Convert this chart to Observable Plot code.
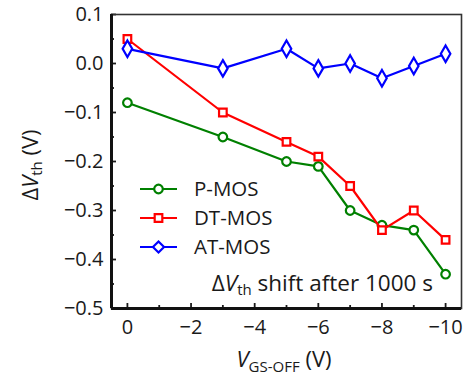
<!DOCTYPE html>
<html>
<head>
<meta charset="utf-8">
<script src="https://cdn.jsdelivr.net/npm/d3@7"></script>
<script src="https://cdn.jsdelivr.net/npm/@observablehq/plot@0.6"></script>
<style>
  html, body { margin: 0; padding: 0; background: #fff; }
  #chart svg { display: block; font-family: "Open Sans", sans-serif; }
</style>
</head>
<body>
<div id="chart"></div>
<script>
// Gate-off bias (V)
const vgsOff = [0, -3, -5, -6, -7, -8, -9, -10];
// Threshold-voltage shift after 1000 s (V)
const pMos  = [-0.08, -0.15, -0.20, -0.21, -0.30, -0.33, -0.34, -0.43];
const dtMos = [0.05, -0.10, -0.16, -0.19, -0.25, -0.34, -0.30, -0.36];
const atMos = [0.03, -0.01, 0.03, -0.01, 0.00, -0.03, -0.005, 0.02];

const seriesNames = ["P-MOS", "DT-MOS", "AT-MOS"];
const seriesColors = ["#008000", "#ff0000", "#0000ff"];
const seriesSymbols = ["circle", "square", "diamond"];
const seriesR = [4.3, 4.3, 5];

const xTicks = [0, -2, -4, -6, -8, -10];
const xMinor = [-1, -3, -5, -7, -9];
const yTicks = [0.1, 0.0, -0.1, -0.2, -0.3, -0.4, -0.5];
const yMinor = [0.05, -0.05, -0.15, -0.25, -0.35, -0.45];

const xDomain = [0.5, -10.5];
const yDomain = [-0.5, 0.1];

const allSeries = [pMos, dtMos, atMos];
const rows = allSeries.flatMap((vals, s) =>
  vals.map((v, i) => ({series: seriesNames[s], x: vgsOff[i], y: v})));

const seriesMarks = seriesNames.flatMap((name, s) => {
  const d = rows.filter(r => r.series === name);
  return [
    Plot.line(d, {x: "x", y: "y", stroke: seriesColors[s], strokeWidth: 2.2}),
    Plot.dot(d, {x: "x", y: "y", symbol: () => seriesSymbols[s], r: seriesR[s],
      stroke: seriesColors[s], strokeWidth: 2.2, fill: "white"})
  ];
});

const tickFont = 20;

const plot = Plot.plot({
  width: 468,
  height: 379,
  marginLeft: 111,
  marginRight: 7,
  marginTop: 14,
  marginBottom: 71,
  style: {fontFamily: "Open Sans, sans-serif", background: "white", color: "#1a1a1a"},
  x: {domain: xDomain},
  y: {domain: yDomain},
  symbol: {type: "identity"},
  marks: [
    // tick labels
    Plot.axisY({ticks: yTicks, tickSize: 0, tickPadding: 8, tickFormat: d3.format(".1f"),
      fontSize: tickFont, label: null}),
    Plot.axisX({ticks: xTicks, tickSize: 0, tickPadding: 11, tickFormat: d3.format("d"),
      fontSize: tickFont, label: null}),
    // inward-facing major and minor ticks
    Plot.axisY({ticks: yTicks, tickSize: 5, dx: 5, text: null, label: null, strokeWidth: 1.8}),
    Plot.axisY({ticks: yMinor, tickSize: 3, dx: 3, text: null, label: null, strokeWidth: 1.8}),
    Plot.axisX({ticks: xTicks, tickSize: 5, dy: -5, text: null, label: null, strokeWidth: 1.8}),
    Plot.axisX({ticks: xMinor, tickSize: 3, dy: -3, text: null, label: null, strokeWidth: 1.8}),
    Plot.frame({stroke: "#333", strokeWidth: 1.6}),
    Plot.ruleX([xDomain[0]], {stroke: "#111", strokeWidth: 3}),
    Plot.ruleY([yDomain[0]], {stroke: "#111", strokeWidth: 3}),
    ...seriesMarks
  ]
});

document.getElementById("chart").append(plot);

// Rich-text labels, legend and note added on top of the Plot SVG
const svg = d3.select(plot);
const textColor = "#1a1a1a";

// tick labels: enforce size and colour on every text Plot drew
svg.selectAll("text")
  .style("font-size", tickFont + "px")
  .style("fill", textColor);

// y-axis title: ΔVth (V)
const yTitle = svg.append("text")
  .attr("transform", "translate(38,165) rotate(-90)")
  .attr("text-anchor", "middle")
  .attr("font-size", 22)
  .attr("fill", textColor);
yTitle.append("tspan").text("\u0394");
yTitle.append("tspan").attr("font-style", "italic").text("V");
yTitle.append("tspan").attr("font-size", 15).attr("dy", 4).text("th");
yTitle.append("tspan").attr("dy", -4).text(" (V)");

// x-axis title: VGS-OFF (V)
const xTitle = svg.append("text")
  .attr("x", 284).attr("y", 367)
  .attr("text-anchor", "middle")
  .attr("font-size", 22)
  .attr("fill", textColor);
xTitle.append("tspan").attr("font-style", "italic").text("V");
xTitle.append("tspan").attr("font-size", 15).attr("dy", 5).text("GS-OFF");
xTitle.append("tspan").attr("dy", -5).text(" (V)");

// legend
const legend = svg.append("g").attr("transform", "translate(140,189)");
seriesNames.forEach((name, s) => {
  const g = legend.append("g").attr("transform", `translate(0,${s * 29})`);
  g.append("line").attr("x1", 0).attr("x2", 37).attr("y1", 0).attr("y2", 0)
    .attr("stroke", seriesColors[s]).attr("stroke-width", 2.2);
  const sym = d3.symbol(s === 0 ? d3.symbolCircle : s === 1 ? d3.symbolSquare : d3.symbolDiamond2,
    Math.PI * seriesR[s] * seriesR[s]);
  g.append("path").attr("d", sym()).attr("transform", "translate(18.5,0)")
    .attr("fill", "white").attr("stroke", seriesColors[s]).attr("stroke-width", 2.2);
  g.append("text").attr("x", 54).attr("y", 7).attr("font-size", 20.5)
    .attr("text-anchor", "start")
    .attr("fill", textColor).text(name);
});

// note
const note = svg.append("text")
  .attr("x", 433).attr("y", 291)
  .attr("text-anchor", "end")
  .attr("font-size", 22.5)
  .attr("fill", textColor);
note.append("tspan").text("\u0394");
note.append("tspan").attr("font-style", "italic").text("V");
note.append("tspan").attr("font-size", 15).attr("dy", 4).text("th");
note.append("tspan").attr("dy", -4).text(" shift after 1000 s");
</script>
</body>
</html>
